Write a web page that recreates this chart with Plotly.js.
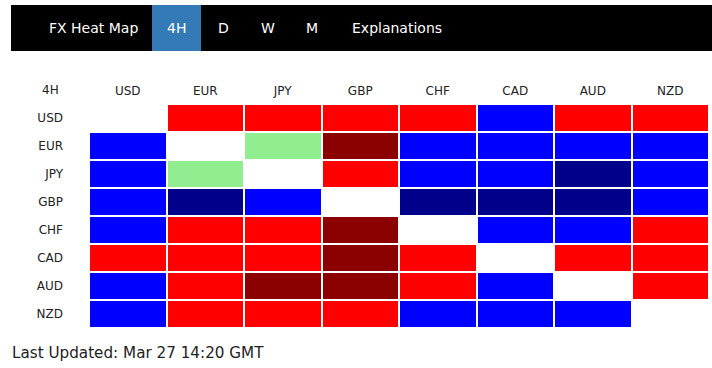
<!DOCTYPE html>
<html>
<head>
<meta charset="utf-8">
<script src="https://cdn.plot.ly/plotly-3.0.1.min.js"></script>
<style>
html,body{margin:0;padding:0;background:#fff;}
#chart{width:712px;height:368px;}
</style>
</head>
<body>
<div id="chart"></div>
<script>
// Currencies (columns and rows)
const currencies = ["USD", "EUR", "JPY", "GBP", "CHF", "CAD", "AUD", "NZD"];
// Strength levels: -2 strong down (dark red), -1 down (red), 0 neutral (light green), 1 up (blue), 2 strong up (navy); null = same pair
const rowUSD = [null, -1, -1, -1, -1, 1, -1, -1];
const rowEUR = [1, null, 0, -2, 1, 1, 1, 1];
const rowJPY = [1, 0, null, -1, 1, 1, 2, 1];
const rowGBP = [1, 2, 1, null, 2, 2, 2, 1];
const rowCHF = [1, -1, -1, -2, null, 1, 1, -1];
const rowCAD = [-1, -1, -1, -2, -1, null, -1, -1];
const rowAUD = [1, -1, -2, -2, -1, 1, null, -1];
const rowNZD = [1, -1, -1, -1, 1, 1, 1, null];
const navItems = ["FX Heat Map", "4H", "D", "W", "M", "Explanations"];
const timeframe = "4H";
const lastUpdated = "Last Updated: Mar 27 14:20 GMT";

const z = [rowUSD, rowEUR, rowJPY, rowGBP, rowCHF, rowCAD, rowAUD, rowNZD];

const W = 712, H = 368;
const px = v => v / W;
const py = v => 1 - v / H;

const colorscale = [
  [0, "#8B0000"], [0.2, "#8B0000"],
  [0.2, "#FF0000"], [0.4, "#FF0000"],
  [0.4, "#90EE90"], [0.6, "#90EE90"],
  [0.6, "#0000FF"], [0.8, "#0000FF"],
  [0.8, "#00008B"], [1, "#00008B"]
];

const trace = {
  type: "heatmap",
  x: currencies,
  y: currencies,
  z: z,
  zmin: -2, zmax: 2,
  colorscale: colorscale,
  showscale: false,
  xgap: 2, ygap: 2,
  hoverinfo: "skip"
};

const font = {family: "DejaVu Sans, Verdana, sans-serif", size: 12, color: "#222"};
const navFont = {family: "DejaVu Sans, Verdana, sans-serif", size: 14, color: "#fff"};
const navX = [47, 176, 223, 268, 312, 350];
const navAnchor = ["left", "center", "center", "center", "center", "left"];

const annotations = navItems.map((t, i) => ({
  xref: "paper", yref: "paper", x: px(navX[i]), y: py(28),
  xanchor: navAnchor[i], yanchor: "middle", text: t, showarrow: false, font: navFont
}));
annotations.push({
  xref: "paper", yref: "paper", x: px(50), y: py(90), xanchor: "center", yanchor: "middle",
  text: timeframe, showarrow: false, font: font
});
annotations.push({
  xref: "paper", yref: "paper", x: px(10), y: py(353), xanchor: "left", yanchor: "middle",
  text: lastUpdated, showarrow: false, font: {family: font.family, size: 15.2, color: "#222"}
});

const layout = {
  width: W, height: H,
  margin: {l: 0, r: 0, t: 0, b: 0},
  paper_bgcolor: "#fff", plot_bgcolor: "#fff",
  font: font,
  xaxis: {
    domain: [px(89), px(709)], side: "top", showgrid: false, zeroline: false,
    ticks: "", showline: false, ticklabelstandoff: 6, fixedrange: true
  },
  yaxis: {
    domain: [py(328), py(104)], autorange: "reversed", showgrid: false, zeroline: false,
    ticks: "", showline: false, ticklabelstandoff: 25, fixedrange: true
  },
  shapes: [
    {type: "rect", xref: "paper", yref: "paper", x0: px(11), x1: px(712), y0: py(51), y1: py(5),
     fillcolor: "#000", line: {width: 0}, layer: "below"},
    {type: "rect", xref: "paper", yref: "paper", x0: px(152), x1: px(201), y0: py(51), y1: py(5),
     fillcolor: "#337AB7", line: {width: 0}, layer: "below"}
  ],
  annotations: annotations,
  showlegend: false
};

Plotly.newPlot("chart", [trace], layout, {displayModeBar: false, staticPlot: true});
</script>
</body>
</html>
